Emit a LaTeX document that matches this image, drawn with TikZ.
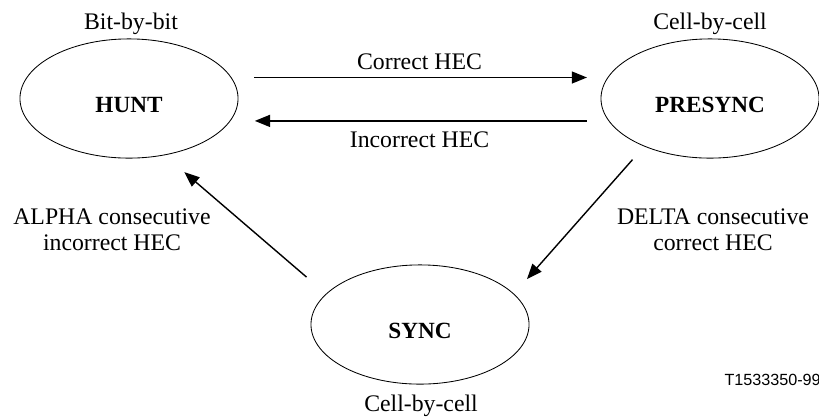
\documentclass[tikz,border=0pt]{standalone}
\usepackage{fontspec}
\setmainfont{Liberation Serif}
\setsansfont{Liberation Sans}
\usetikzlibrary{arrows.meta}
\usetikzlibrary{shapes.geometric}
\tikzset{>={Triangle[width=3mm,length=3.8mm]}}

\begin{document}
\begin{tikzpicture}[x=0.025cm,y=-0.025cm,
  state/.style={draw,ellipse,line width=0.6pt,minimum width=5.45cm,minimum height=2.98cm,
    inner sep=0pt,outer sep=0pt,text height=19.5pt,text depth=0pt,
    font=\fontsize{16.5}{18}\selectfont\bfseries},
  txt/.style={font=\fontsize{16.9}{17.8}\selectfont,align=center},
  flow/.style={line width=1pt,->}]

  \useasboundingbox (0,0) rectangle (819,417);

  \node[state] (hunt) at (129,98.5) {HUNT};
  \node[state] (presync) at (710,98.5) {PRESYNC};
  \node[state] (sync) at (420,324.5) {SYNC};

  \node[txt,anchor=base] (huntmode) at (131,29) {Bit-by-bit};
  \node[txt,anchor=base] (presyncmode) at (710,29) {Cell-by-cell};
  \node[txt,anchor=base] (syncmode) at (421,411) {Cell-by-cell};

  \draw[flow,shorten <=0.4cm,shorten >=0.35cm] ([yshift=0.525cm]hunt.east) -- ([yshift=0.525cm]presync.west)
    node[midway,above=2pt,txt]{Correct HEC};
  \draw[flow,shorten <=0.35cm,shorten >=0.42cm] ([yshift=-0.56cm]presync.west) -- ([yshift=-0.56cm]hunt.east)
    node[midway,below=4pt,txt]{Incorrect HEC};

  \draw[flow,shorten <=0.45cm,shorten >=0.5cm] (presync.216.9) -- (sync.18.2);
  \draw[flow,shorten <=0.65cm,shorten >=0.66cm] (sync.162.1) -- (hunt.302.7);

  % base anchor sits on the last line
  \node[txt,anchor=base] (alpha) at (112,250) {ALPHA consecutive\\incorrect HEC};
  \node[txt,anchor=base] (delta) at (713,250) {DELTA consecutive\\correct HEC};

  \node[anchor=base east,inner sep=0pt,font=\sffamily\fontsize{11.5}{13}\selectfont] (figno) at (821,385) {T1533350-99};

\end{tikzpicture}
\end{document}
